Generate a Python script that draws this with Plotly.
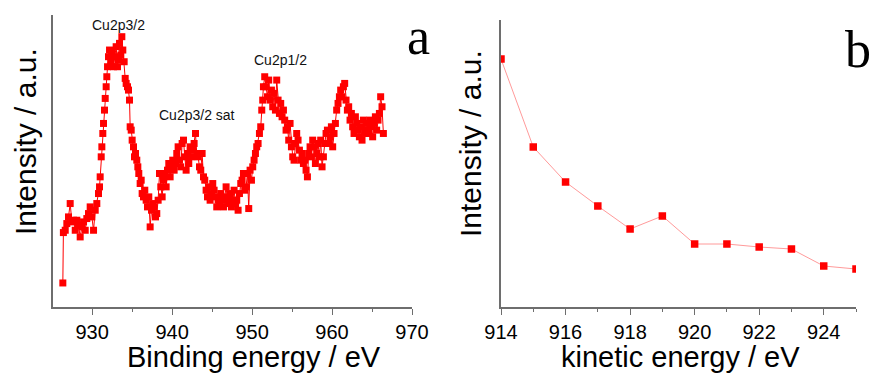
import plotly.graph_objects as go

# ---- Panel a: Cu2p XPS spectrum ----
binding_energy = [
    926.33, 926.40, 926.63, 926.83, 927.04, 927.25, 927.46, 927.67, 927.88, 928.08,
    928.29, 928.50, 928.71, 928.92, 929.13, 929.33, 929.54, 929.75, 929.96, 930.17,
    930.38, 930.58, 930.79, 930.92, 931.00, 931.13, 931.21, 931.33, 931.42, 931.54,
    931.63, 931.75, 931.83, 931.92, 932.04, 932.17, 932.33, 932.46, 932.67, 932.88,
    933.00, 933.17, 933.29, 933.42, 933.58, 933.71, 933.83, 934.00, 934.13, 934.25,
    934.42, 934.54, 934.67, 934.75, 934.88, 935.00, 935.17, 935.29, 935.42, 935.58,
    935.71, 935.83, 936.00, 936.13, 936.25, 936.42, 936.58, 936.75, 936.92, 937.08,
    937.25, 937.42, 937.58, 937.75, 937.92, 938.08, 938.25, 938.42, 938.58, 938.75,
    938.92, 939.08, 939.25, 939.42, 939.58, 939.75, 939.92, 940.08, 940.25, 940.42,
    940.58, 940.75, 940.92, 941.08, 941.25, 941.42, 941.58, 941.75, 941.92, 942.08,
    942.25, 942.42, 942.58, 942.75, 942.92, 943.08, 943.25, 943.42, 943.58, 943.75,
    943.92, 944.08, 944.25, 944.42, 944.58, 944.75, 944.92, 945.08, 945.25, 945.42,
    945.58, 945.75, 945.92, 946.08, 946.25, 946.42, 946.58, 946.75, 946.92, 947.08,
    947.25, 947.42, 947.58, 947.75, 947.92, 948.08, 948.25, 948.42, 948.58, 948.75,
    948.92, 949.08, 949.25, 949.42, 949.58, 949.75, 949.92, 950.08, 950.25, 950.42,
    950.58, 950.75, 950.92, 951.08, 951.21, 951.33, 951.42, 951.58, 951.75, 951.92,
    952.08, 952.25, 952.42, 952.58, 952.75, 952.92, 953.08, 953.25, 953.42, 953.58,
    953.75, 953.92, 954.08, 954.25, 954.42, 954.58, 954.75, 954.92, 955.08, 955.25,
    955.42, 955.58, 955.75, 955.92, 956.08, 956.25, 956.42, 956.58, 956.75, 956.92,
    957.08, 957.25, 957.42, 957.58, 957.75, 957.92, 958.08, 958.25, 958.42, 958.58,
    958.75, 958.92, 959.08, 959.25, 959.42, 959.58, 959.75, 959.92, 960.08, 960.25,
    960.42, 960.58, 960.75, 960.92, 961.08, 961.25, 961.42, 961.58, 961.75, 961.92,
    962.08, 962.25, 962.42, 962.58, 962.75, 962.92, 963.08, 963.25, 963.42, 963.58,
    963.75, 963.92, 964.08, 964.25, 964.42, 964.58, 964.75, 964.92, 965.08, 965.25,
    965.42, 965.58, 965.75, 965.92, 966.08, 966.25, 966.42,
]
xps_intensity = [
    72, 223, 230, 250, 270, 310, 255, 260, 230, 260,
    245, 210, 240, 255, 230, 265, 280, 300, 270, 230,
    290, 310, 340, 360, 390, 450, 480, 520, 550, 590,
    625, 660, 690, 720, 750, 770, 730, 760, 720, 750,
    780, 720, 740, 790, 755, 810, 770, 735, 685, 670,
    660, 650, 620, 540, 530, 500, 480, 450, 460, 440,
    420, 400, 370, 380, 340, 330, 350, 320, 300, 330,
    240, 290, 310, 300, 270, 280, 320, 400, 360, 330,
    380, 400, 360, 410, 430, 390, 420, 440, 410, 430,
    460, 480, 440, 420, 490, 500, 450, 410, 460, 430,
    480, 450, 470, 490, 520, 460, 450, 420, 410, 460,
    390, 380, 350, 330, 360, 320, 340, 370, 350, 330,
    300, 320, 310, 340, 320, 300, 330, 360, 320, 310,
    340, 300, 320, 350, 310, 320, 290, 340, 370, 380,
    400, 350, 360, 400, 295, 410, 380, 420, 440, 460,
    480, 490, 520, 540, 590, 620, 660, 690, 660, 630,
    680, 620, 650, 600, 640, 590, 680, 620, 580, 610,
    570, 590, 560, 530, 540, 500, 550, 480, 450, 440,
    490, 520, 500, 470, 440, 460, 430, 440, 410, 390,
    460, 480, 450, 500, 480, 430, 460, 490, 450, 500,
    420, 450, 490, 520, 530, 490, 510, 540, 480, 520,
    550, 590, 610, 630, 650, 630, 660, 670, 620, 590,
    600, 560, 580, 540, 520, 570, 550, 530, 510, 540,
    500, 560, 530, 520, 550, 520, 560, 540, 510, 550,
    570, 530, 560, 580, 630, 600, 520,
]
peak_labels = ["Cu2p3/2", "Cu2p3/2 sat", "Cu2p1/2"]
peak_label_energy = [933.3, 943.1, 953.5]
peak_label_intensity = [846, 576, 741]

# ---- Panel b: intensity vs kinetic energy ----
kinetic_energy = [914, 915, 916, 917, 918, 919, 920, 921, 922, 923, 924, 925]
kinetic_intensity = [248, 160, 125, 101, 78, 91, 63, 63, 60, 58, 41, 38]

RED = "#ff0000"
AXIS = "#6e6e6e"
FONT = "Liberation Sans, Arial, sans-serif"
SERIF = "Liberation Serif, Times New Roman, serif"

W, H = 875, 374


def px(x):
    return x / W


def py(y):
    return 1 - y / H


fig = go.Figure()
fig.add_trace(go.Scatter(
    x=binding_energy, y=xps_intensity, mode="lines+markers",
    line=dict(color=RED, width=1),
    marker=dict(symbol="square", size=7, color=RED),
    xaxis="x", yaxis="y", showlegend=False, cliponaxis=False,
))
fig.add_trace(go.Scatter(
    x=kinetic_energy, y=kinetic_intensity, mode="lines+markers",
    line=dict(color="#ff9a9a", width=1),
    marker=dict(symbol="square", size=7.5, color=RED),
    xaxis="x2", yaxis="y2", showlegend=False, cliponaxis=True,
))

xcommon = dict(showline=True, linecolor=AXIS, linewidth=1.5, ticks="outside",
               ticklen=6, tickwidth=1, tickcolor=AXIS, showgrid=False, zeroline=False,
               automargin=False,
               tickfont=dict(family=FONT, size=20, color="#000"))
ycommon = dict(showline=True, linecolor=AXIS, linewidth=1.5, ticks="",
               showticklabels=False, showgrid=False, zeroline=False, automargin=False)

fig.update_layout(
    width=W, height=H,
    margin=dict(l=0, r=0, t=0, b=0),
    paper_bgcolor="white", plot_bgcolor="white",
    xaxis=dict(**xcommon, domain=[px(53), px(412)], range=[925.1, 970],
               tickvals=[930, 940, 950, 960, 970],
               minor=dict(ticks="outside", ticklen=3, tickcolor=AXIS, dtick=5, tick0=925)),
    yaxis=dict(**ycommon, domain=[py(307), py(15)], range=[0, 875]),
    xaxis2=dict(**xcommon, anchor="y2", domain=[px(501), px(856)], range=[914, 925],
                tickvals=[914, 916, 918, 920, 922, 924],
                minor=dict(ticks="outside", ticklen=3, tickcolor=AXIS, dtick=1, tick0=914)),
    yaxis2=dict(**ycommon, anchor="x2", domain=[py(307), py(20)], range=[0, 287]),
)

ann = []
for t, ex, iy in zip(peak_labels, peak_label_energy, peak_label_intensity):
    ann.append(dict(x=ex, y=iy, xref="x", yref="y", text=t, showarrow=False,
                    xanchor="center", yanchor="middle",
                    font=dict(family=FONT, size=14, color="#111")))


def label(x, y, text, size, family=FONT, angle=0):
    ann.append(dict(x=px(x), y=py(y), xref="paper", yref="paper", text=text,
                    showarrow=False, xanchor="center", yanchor="middle",
                    textangle=angle, font=dict(family=family, size=size, color="#000")))


label(254, 357, "Binding energy / eV", 29)
label(680, 357, "kinetic energy / eV", 29)
label(25, 142, "Intensity / a.u.", 30, angle=-90)
label(470, 144, "Intensity / a.u.", 30, angle=-90)
label(418, 37, "a", 52, family=SERIF)
label(858, 50, "b", 52, family=SERIF)
fig.update_layout(annotations=ann)

fig.write_html(
    "out.html",
    config={"displayModeBar": False},
    post_script="document.body.style.margin='0';document.body.style.overflow='hidden';",
)
